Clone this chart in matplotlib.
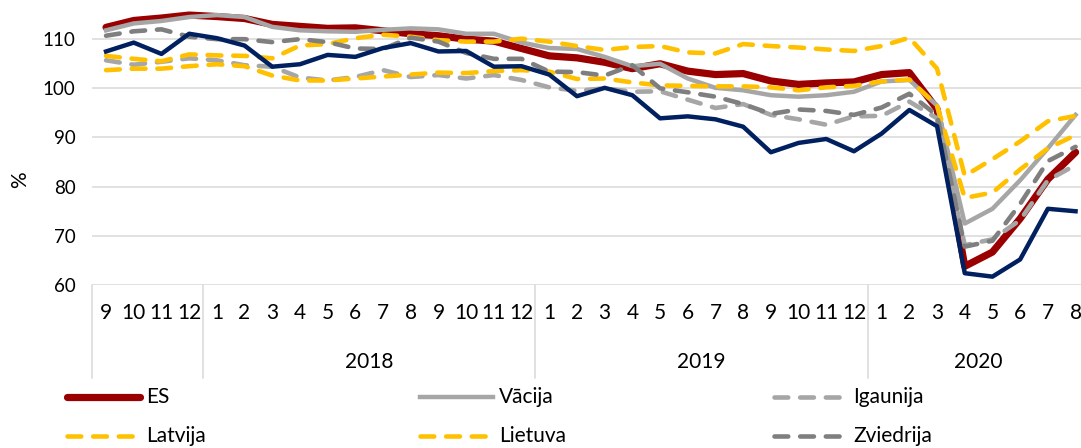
import matplotlib.pyplot as plt
from matplotlib.lines import Line2D

plt.rcParams['font.family'] = ['Lato', 'DejaVu Sans']

# mēneši no 2017-09 līdz 2020-08
menesi = ['9', '10', '11', '12',
          '1', '2', '3', '4', '5', '6', '7', '8', '9', '10', '11', '12',
          '1', '2', '3', '4', '5', '6', '7', '8', '9', '10', '11', '12',
          '1', '2', '3', '4', '5', '6', '7', '8']
gadi = ['2018', '2019', '2020']
gadu_sakums = [4, 16, 28]
gadu_garums = [12, 12, 8]

es = [112.4, 113.8, 114.3, 114.9, 114.6, 114.2, 113.0, 112.6, 112.2, 112.3, 111.7, 111.1,
      110.7, 110.0, 109.6, 108.1, 106.6, 106.2, 105.3, 104.0, 105.0, 103.5, 102.8, 103.0,
      101.5, 100.8, 101.1, 101.3, 102.8, 103.2, 95.8, 63.8, 66.7, 73.5, 81.5, 87.0]
vacija = [111.8, 113.2, 113.7, 114.5, 114.9, 114.5, 112.5, 111.8, 111.6, 111.5, 111.9, 112.2,
          112.0, 111.1, 111.1, 109.3, 108.2, 108.0, 106.4, 104.5, 105.0, 102.0, 100.1, 99.6,
          98.6, 98.3, 98.6, 99.3, 101.4, 101.7, 96.5, 72.5, 75.5, 81.3, 87.8, 94.6]
igaunija = [105.7, 104.8, 105.4, 106.1, 105.7, 104.7, 104.4, 102.2, 101.6, 102.3, 103.7, 102.3,
            102.7, 102.0, 102.7, 101.7, 100.2, 99.5, 100.0, 99.3, 99.4, 97.7, 96.0, 96.8,
            94.6, 93.7, 92.6, 94.3, 94.4, 97.3, 93.9, 68.1, 69.3, 73.2, 81.3, 84.4]
latvija = [103.7, 104.0, 104.0, 104.5, 104.9, 104.5, 102.6, 101.6, 101.6, 102.0, 102.4, 102.8,
           103.2, 103.1, 103.5, 103.7, 103.4, 101.9, 102.0, 101.2, 100.6, 100.5, 100.4, 100.4,
           100.2, 99.6, 100.2, 100.5, 101.4, 101.8, 96.5, 77.7, 78.8, 83.5, 87.8, 90.5]
lietuva = [106.6, 106.0, 105.5, 106.9, 106.7, 106.6, 106.1, 108.7, 109.0, 110.2, 110.9, 110.5,
           109.8, 109.5, 109.5, 110.1, 109.5, 108.6, 107.8, 108.4, 108.6, 107.3, 107.1, 109.0,
           108.6, 108.3, 107.9, 107.6, 108.6, 110.3, 104.0, 82.2, 85.6, 89.2, 93.3, 94.4]
zviedrija = [110.7, 111.6, 112.0, 110.5, 110.0, 110.0, 109.4, 110.0, 109.4, 108.1, 108.0, 110.3,
             109.5, 107.2, 106.0, 106.0, 103.4, 103.3, 102.6, 104.7, 100.0, 99.2, 98.3, 96.8,
             94.8, 95.7, 95.4, 94.6, 96.1, 98.9, 94.5, 67.8, 69.0, 76.5, 85.2, 88.1]
somija = [107.5, 109.3, 107.0, 111.1, 110.2, 108.7, 104.4, 104.9, 106.8, 106.4, 108.2, 109.2,
          107.5, 107.6, 104.4, 104.5, 102.8, 98.4, 100.1, 98.6, 93.9, 94.3, 93.7, 92.2,
          87.0, 88.9, 89.7, 87.2, 90.8, 95.6, 92.3, 62.4, 61.7, 65.2, 75.5, 75.0]

svitras = dict(linestyle=(0, (3.0, 2.6)), dash_capstyle='round')
serijas = [
    ('ES', es, dict(color='#9A0000', lw=5.2, solid_capstyle='round')),
    ('Vācija', vacija, dict(color='#A6A6A6', lw=3.2)),
    ('Igaunija', igaunija, dict(color='#A6A6A6', lw=3.3, **svitras)),
    ('Latvija', latvija, dict(color='#FFC000', lw=3.3, **svitras)),
    ('Lietuva', lietuva, dict(color='#FFC000', lw=3.3, **svitras)),
    ('Zviedrija', zviedrija, dict(color='#7F7F7F', lw=3.3, **svitras)),
    ('Somija', somija, dict(color='#002060', lw=3.2)),
]

W, H = 1081, 448
fig = plt.figure(figsize=(W / 100, H / 100), dpi=100)
ax = fig.add_axes([92.2 / W, (H - 285) / H, 997.2 / W, 295 / H])

x = list(range(len(menesi)))
for nosaukums, vertibas, stils in serijas:
    ax.plot(x, vertibas, label=nosaukums, **stils)

ax.set_xlim(-0.5, len(menesi) - 0.5)
ax.set_ylim(60, 120)
ax.set_yticks([60, 70, 80, 90, 100, 110])
ax.grid(axis='y', color='#D9D9D9', lw=1.1)
ax.set_axisbelow(True)
for s in ax.spines.values():
    s.set_visible(False)
ax.tick_params(axis='y', length=0, pad=12, labelsize=13.5)
ax.set_xticks(x)
ax.set_xticklabels(menesi)
ax.tick_params(axis='x', length=0, pad=13, labelsize=15)

# kategoriju ass atdalītāji un gadi
trans = ax.get_xaxis_transform()
for xv in [-0.5] + [s - 0.5 for s in gadu_sakums]:
    ax.plot([xv, xv], [0, -0.315], transform=trans, clip_on=False,
            color='#D9D9D9', lw=1.1)
for gads, sak, gar in zip(gadi, gadu_sakums, gadu_garums):
    ax.text(sak + (gar - 1) / 2, -0.262, gads, transform=trans,
            ha='center', va='center', fontsize=15)

fig.text(20 / W, 1 - 180 / H, '%', rotation=90, ha='center', va='center', fontsize=15)

# leģenda
kol_x = [67, 420, 774]
rind_y = [397, 436, 476]
for k, (nosaukums, _, stils) in enumerate(serijas):
    rinda, kol = divmod(k, 3)
    x0 = kol_x[kol]
    y0 = 1 - rind_y[rinda] / H
    fig.add_artist(Line2D([x0 / W, (x0 + 73) / W], [y0, y0],
                          transform=fig.transFigure, **stils))
    fig.text((x0 + 79) / W, y0, nosaukums, ha='left', va='center', fontsize=15)

fig.savefig('out.png', dpi=100)
